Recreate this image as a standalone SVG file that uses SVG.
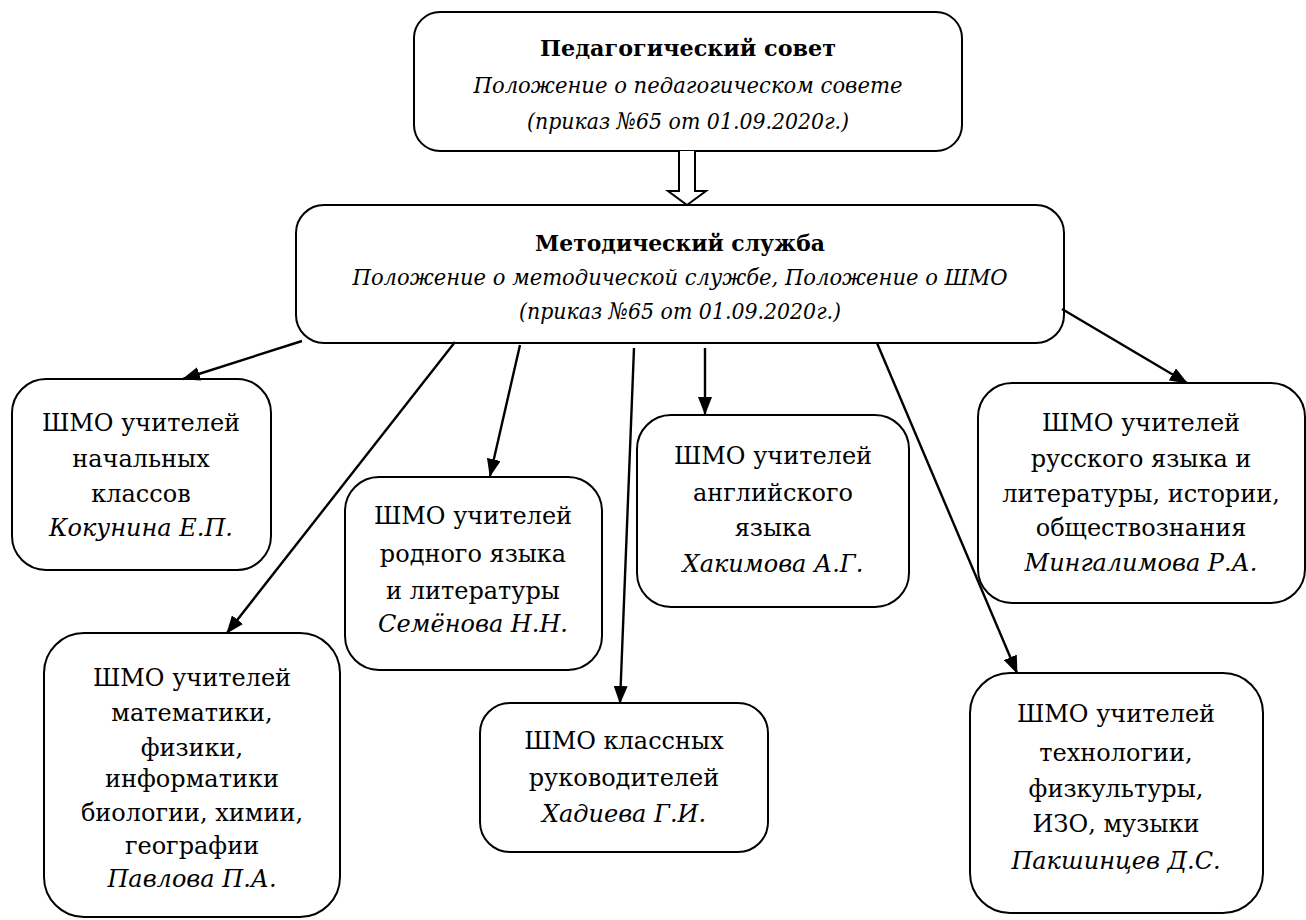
<svg xmlns="http://www.w3.org/2000/svg" width="1306" height="920" viewBox="0 0 1306 920">
<style>
.box{fill:#fff;stroke:#000;stroke-width:2}
text{font-family:'DejaVu Serif',serif;fill:#000;text-anchor:middle}
.t{font-size:24px}
.i{font-style:italic}
.h{font-size:23px}
.b{font-weight:bold;font-size:23px}
.c{stroke:#000;stroke-width:2.4;fill:none}
</style>
<defs>
<marker id="ah" markerWidth="18" markerHeight="14" refX="17" refY="7" orient="auto" markerUnits="userSpaceOnUse">
<path d="M0,0 L18,7 L0,14 Z" fill="#000"/>
</marker>
</defs>
<rect width="1306" height="920" fill="#fff"/>
<g id="pedsovet">
<rect class="box" x="414" y="12" width="548" height="139" rx="26"/>
<text class="h b" x="688" y="56" textLength="296" lengthAdjust="spacingAndGlyphs">Педагогический совет</text>
<text class="h i" x="688" y="93" textLength="429" lengthAdjust="spacingAndGlyphs">Положение о педагогическом совете</text>
<text class="h i" x="688" y="129" textLength="322" lengthAdjust="spacingAndGlyphs">(приказ №65 от 01.09.2020г.)</text>
</g>
<g id="metod">
<rect class="box" x="296" y="205" width="768" height="138" rx="28"/>
<text class="h b" x="680" y="251" textLength="290" lengthAdjust="spacingAndGlyphs">Методический служба</text>
<text class="h i" x="680" y="285" textLength="655" lengthAdjust="spacingAndGlyphs">Положение о методической службе, Положение о ШМО</text>
<text class="h i" x="680" y="319" textLength="322" lengthAdjust="spacingAndGlyphs">(приказ №65 от 01.09.2020г.)</text>
</g>
<g id="nach">
<rect class="box" x="12" y="379" width="259" height="191" rx="34"/>
<text class="t" x="141" y="431">ШМО учителей</text>
<text class="t" x="141" y="467">начальных</text>
<text class="t" x="141" y="502">классов</text>
<text class="t i" x="141" y="536">Кокунина Е.П.</text>
</g>
<g id="rodn">
<rect class="box" x="345" y="477" width="257" height="193" rx="34"/>
<text class="t" x="473" y="524">ШМО учителей</text>
<text class="t" x="473" y="562">родного языка</text>
<text class="t" x="473" y="599">и литературы</text>
<text class="t i" x="473" y="632">Семёнова Н.Н.</text>
</g>
<g id="angl">
<rect class="box" x="637" y="415" width="272" height="192" rx="34"/>
<text class="t" x="773" y="464">ШМО учителей</text>
<text class="t" x="773" y="501">английского</text>
<text class="t" x="773" y="536">языка</text>
<text class="t i" x="773" y="572">Хакимова А.Г.</text>
</g>
<g id="russ">
<rect class="box" x="978" y="383" width="327" height="220" rx="34"/>
<text class="t" x="1141" y="431">ШМО учителей</text>
<text class="t" x="1141" y="467">русского языка и</text>
<text class="t" x="1141" y="502">литературы, истории,</text>
<text class="t" x="1141" y="536">обществознания</text>
<text class="t i" x="1141" y="571">Мингалимова Р.А.</text>
</g>
<g id="math">
<rect class="box" x="44" y="633" width="296" height="284" rx="40"/>
<text class="t" x="192" y="686">ШМО учителей</text>
<text class="t" x="192" y="721">математики,</text>
<text class="t" x="192" y="756">физики,</text>
<text class="t" x="192" y="787">информатики</text>
<text class="t" x="192" y="821">биологии, химии,</text>
<text class="t" x="192" y="854">географии</text>
<text class="t i" x="192" y="887">Павлова П.А.</text>
</g>
<g id="klass">
<rect class="box" x="480" y="703" width="288" height="149" rx="30"/>
<text class="t" x="624" y="749">ШМО классных</text>
<text class="t" x="624" y="786">руководителей</text>
<text class="t i" x="624" y="822">Хадиева Г.И.</text>
</g>
<g id="tech">
<rect class="box" x="970" y="673" width="293" height="240" rx="40"/>
<text class="t" x="1116" y="722">ШМО учителей</text>
<text class="t" x="1116" y="761">технологии,</text>
<text class="t" x="1116" y="797">физкультуры,</text>
<text class="t" x="1116" y="832">ИЗО, музыки</text>
<text class="t i" x="1116" y="869">Пакшинцев Д.С.</text>
</g>
<g id="connectors">
<path d="M679,151 V191 H668 L687,205 L706,191 H695 V151" fill="#fff" stroke="#000" stroke-width="2"/>
<line class="c" x1="302" y1="341" x2="183" y2="379" marker-end="url(#ah)"/>
<line class="c" x1="455" y1="342" x2="227" y2="633" marker-end="url(#ah)"/>
<line class="c" x1="520" y1="345" x2="490" y2="476" marker-end="url(#ah)"/>
<line class="c" x1="634" y1="348" x2="620" y2="703" marker-end="url(#ah)"/>
<line class="c" x1="705" y1="348" x2="705" y2="414" marker-end="url(#ah)"/>
<line class="c" x1="877" y1="343" x2="1017" y2="673" marker-end="url(#ah)"/>
<line class="c" x1="1062" y1="309" x2="1187" y2="383" marker-end="url(#ah)"/>
</g>
</svg>
